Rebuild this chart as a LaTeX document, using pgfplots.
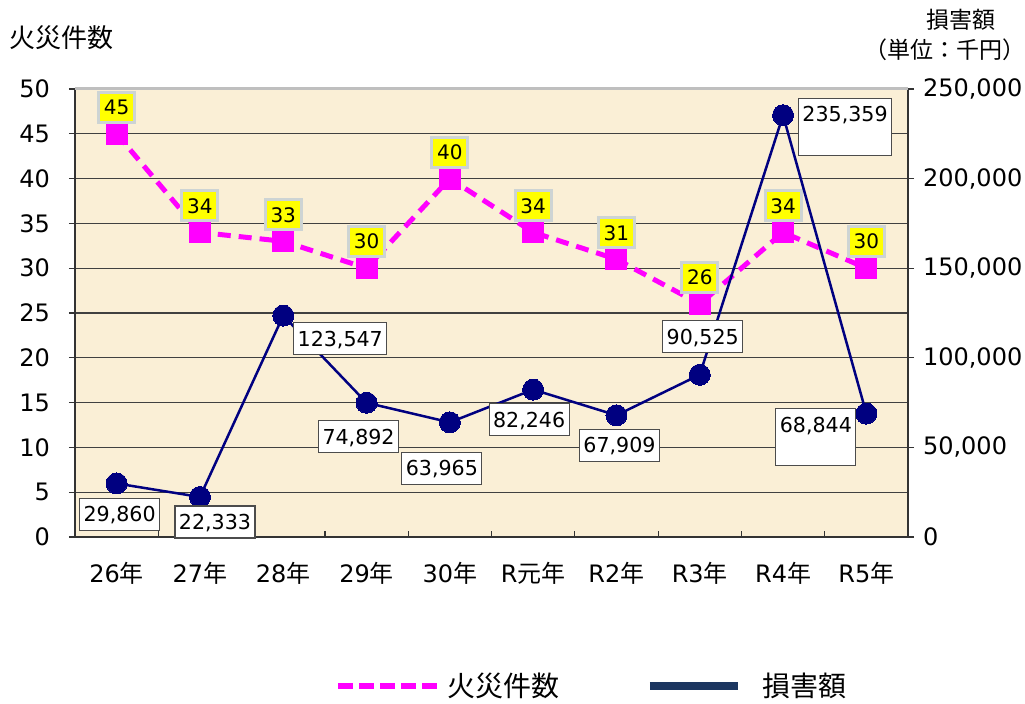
\documentclass[border=0pt]{standalone}
\usepackage{pgfplots}
\pgfplotsset{compat=1.18}
\usepackage{pgfplotstable}
\usepackage{fontspec}
\setmainfont{DejaVu Sans}
\newfontfamily\jp{Noto Sans CJK JP}
\definecolor{bgc}{RGB}{250,239,214}
\definecolor{pinkc}{RGB}{255,0,255}
\definecolor{navyc}{RGB}{0,0,128}
\definecolor{legnavy}{RGB}{28,54,96}
\definecolor{yel}{RGB}{255,255,0}
\definecolor{ybord}{RGB}{205,212,212}

\pgfplotstableread{
x y
0 45
1 34
2 33
3 30
4 40
5 34
6 31
7 26
8 34
9 30
}\firetable

\pgfplotstableread{
x y lab dx dy dd
0 29860 29,860 1.5 -15.5 2.75
1 22333 22,333 7.5 -12.5 2.75
2 123547 123,547 28.5 -11.5 2.75
3 74892 74,892 -4 -17 2.75
4 63965 63,965 -4 -23 2.75
5 82246 82,246 -2 -15 2.75
6 67909 67,909 1.5 -15 2.75
7 90525 90,525 1.5 19 2.75
8 235359 235,359 31 -5.75 15.25
9 68844 68,844 -25.25 -11.75 15.25
}\damagetable

\pgfplotsset{
  /pgf/number format/assume math mode=true,
}

\begin{document}
\begin{tikzpicture}
\useasboundingbox (-37.5pt,-83.5pt) rectangle (475pt,268.5pt);
\begin{axis}[
  width=416.5pt, height=224pt, scale only axis,
  at={(0pt,0pt)}, anchor=south west,
  clip=false,
  xmin=-0.5, xmax=9.5, ymin=0, ymax=50,
  axis background/.style={fill=bgc},
  axis x line*=bottom, axis y line*=left,
  axis line style={black!80, line width=0.8pt},
  xtick={0,...,9},
  xticklabels={26{\jp 年},27{\jp 年},28{\jp 年},29{\jp 年},30{\jp 年},R{\jp 元年},R2{\jp 年},R3{\jp 年},R4{\jp 年},R5{\jp 年}},
  minor xtick={0.5,1.5,...,8.5},
  major x tick style={draw=none},
  minor x tick style={black!80, line width=0.6pt, yshift=3pt},
  minor tick length=3pt,
  ytick={0,5,...,50},
  tick align=outside,
  major tick length=3pt,
  y tick style={black!80, line width=0.6pt},
  ymajorgrids,
  grid style={black!75, line width=0.6pt},
  tick label style={font=\fontsize{12}{14}\selectfont, text=black},
  xticklabel style={yshift=-6pt},
  yticklabel style={xshift=-6pt},
  nodes near coords,
  every node near coord/.append style={anchor=center, yshift=13.25pt, fill=yel, draw=ybord, line width=1.5pt, minimum width=18pt, minimum height=15pt, inner sep=1pt, font=\fontsize{10}{12}\selectfont, text=black},
]
\addplot[pinkc, line width=2.5pt, dash pattern=on 6.5pt off 4pt, mark=square*, mark size=5.25pt, mark options={solid, fill=pinkc, draw=pinkc, line width=0pt}] table[x=x, y=y] {\firetable};
\end{axis}
\begin{axis}[
  width=416.5pt, height=224pt, scale only axis,
  at={(0pt,0pt)}, anchor=south west,
  clip=false,
  xmin=-0.5, xmax=9.5, ymin=0, ymax=250000,
  axis y line*=right, axis x line=none,
  axis line style={black!80, line width=0.8pt},
  ytick={0,50000,100000,150000,200000,250000},
  scaled y ticks=false,
  yticklabel style={/pgf/number format/1000 sep={,}, /pgf/number format/fixed, xshift=1pt},
  tick align=outside,
  major tick length=3pt,
  y tick style={black!80, line width=0.6pt},
  tick label style={font=\fontsize{12}{14}\selectfont, text=black},
  legend style={at={(0.3121,-0.3326)}, anchor=west, draw=none, fill=none, inner sep=0pt,
    legend columns=2, /tikz/every even column/.append style={column sep=41pt},
    nodes={inner xsep=2pt, inner ysep=0pt}, font=\jp\fontsize{14}{16}\selectfont},
]
\addplot[navyc, line width=1.25pt, mark=*, mark size=5.25pt, mark options={fill=navyc, draw=navyc, line width=0pt},
  forget plot,
  point meta=explicit symbolic,
  nodes near coords={\pgfplotspointmeta},
  visualization depends on={\thisrow{dx}\as\dx},
  visualization depends on={\thisrow{dy}\as\dy},
  visualization depends on={\thisrow{dd}\as\dd},
  every node near coord/.append style={anchor=center, xshift=\dx pt, yshift=\dy pt, fill=white, draw=black!70, line width=0.6pt, inner xsep=2pt, inner ysep=1.5pt, text height=10.25pt, text depth=\dd pt, font=\fontsize{10.3}{12}\selectfont, text=black},
] table[x=x, y=y, meta=lab] {\damagetable};
\draw[black!25, line width=1.5pt] (rel axis cs:0,1) -- (rel axis cs:1,1);
\addlegendimage{legend image code/.code={\draw[pinkc, line width=3pt, dash pattern=on 7.5pt off 3pt] (0pt,0pt) -- (50.5pt,0pt); \path (52.5pt,0pt);}}
\addlegendentry{火災件数}
\addlegendimage{legend image code/.code={\draw[legnavy, line width=4pt] (0pt,0pt) -- (44pt,0pt); \path (54pt,0pt);}}
\addlegendentry{損害額}
\end{axis}
\node[font=\jp\fontsize{13}{15}\selectfont] at (-6.5pt,249.5pt) {火災件数};
\node[font=\jp\fontsize{11.5}{13}\selectfont] at (443pt,258.5pt) {損害額};
\node[font=\jp\fontsize{11.5}{13}\selectfont] at (435pt,243.5pt) {（単位：千円）};
\end{tikzpicture}
\end{document}
